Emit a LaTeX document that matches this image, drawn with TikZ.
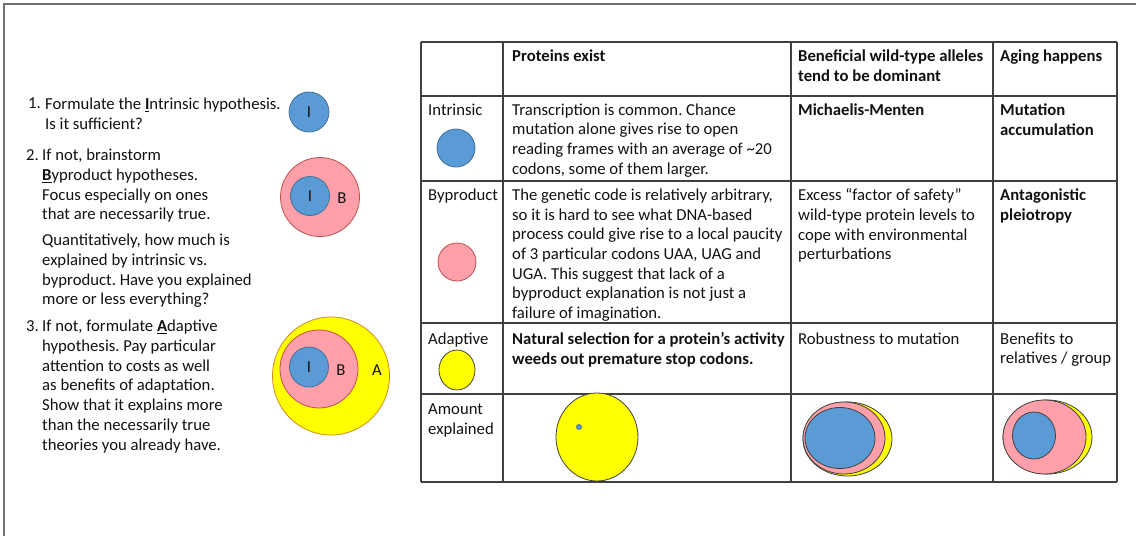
\documentclass[tikz,border=0pt]{standalone}
\usepackage{fontspec}
\setmainfont{Carlito}
\usepackage{xcolor}
\usetikzlibrary{shapes.geometric,positioning}
\frenchspacing
\definecolor{hyBlue}{HTML}{5B9BD5}
\definecolor{hyBlueLine}{HTML}{41719C}
\definecolor{hyPink}{HTML}{FF9FA9}
\definecolor{hyPinkLine}{HTML}{C0504D}
\definecolor{hyYellow}{HTML}{FFFF00}
\definecolor{hyYellowLine}{HTML}{D08A2A}
\definecolor{hyFrame}{HTML}{707070}
\definecolor{hyGrid}{HTML}{404040}
\definecolor{hyInk}{HTML}{111111}
\tikzset{
  hy diagram/.style={x=1pt, y=-1pt, text=hyInk,
    font=\fontsize{16.7}{19.7}\selectfont},
  hy text/.style={anchor=north west, align=left, inner sep=0pt},
  hy head/.style={hy text, font=\fontsize{16.7}{19.7}\selectfont\bfseries},
  hy frame/.style={draw=hyFrame, line width=2pt},
  hy grid/.style={draw=hyGrid, line width=1.3pt},
  hy blob/.style={ellipse, inner sep=0pt, line width=0.8pt},
  hy intr/.style={hy blob, draw=hyBlueLine, fill=hyBlue},
  hy byp/.style={hy blob, draw=hyPinkLine, fill=hyPink},
  hy adap/.style={hy blob, draw=hyYellowLine, fill=hyYellow},
  hy amount/.style={hy blob, draw=hyGrid}
}
\begin{document}
\begin{tikzpicture}[hy diagram]
\useasboundingbox (0,0) rectangle (1136,536);
\draw[hy frame] (4,536) -- (4,4) -- (1136,4);

% steps on the left
\node[hy text] (num1) at (28,98) {1.};
\node[hy text] (step1) at (45,98) {Formulate the \underline{\textbf{I}}ntrinsic hypothesis.\\Is it sufficient?};
\node[hy text] (num2) at (26,149) {2.};
\node[hy text] (step2) at (42,149) {If not, brainstorm\\\underline{\textbf{B}}yproduct hypotheses.\\Focus especially on ones\\that are necessarily true.};
\node[hy text] (step2b) at (42,234) {Quantitatively, how much is\\explained by intrinsic vs.\\byproduct. Have you explained\\more or less everything?};
\node[hy text] (num3) at (26,320) {3.};
\node[hy text] (step3) at (42,320) {If not, formulate \underline{\textbf{A}}daptive\\hypothesis. Pay particular\\attention to costs as well\\as benefits of adaptation.\\Show that it explains more\\than the necessarily true\\theories you already have.};

% nested circles
\node[hy intr, minimum width=40pt, minimum height=40pt] (one) at (309,112) {I};
\node[hy byp, minimum width=79pt, minimum height=79pt] (twoB) at (320,197) {};
\node[hy intr, minimum width=39pt, minimum height=39pt] (twoI) at (310,196) {I};
\node (twoBl) at (342,198) {B};
\node[hy adap, minimum width=117pt, minimum height=118pt] (threeA) at (331,376) {};
\node[hy byp, minimum width=78pt, minimum height=78pt] (threeB) at (319,369) {};
\node[hy intr, minimum width=39pt, minimum height=40pt] (threeI) at (309,367) {I};
\node (threeBl) at (341,370) {B};
\node (threeAl) at (377,370) {A};

% table grid
\foreach \x in {421,503,791,993,1117}
  \draw[hy grid] (\x,42) -- (\x,482);
\foreach \y in {42,96,181,323,394,482}
  \draw[hy grid] (421,\y) -- (1117,\y);

% header
\node[hy head] (hProt) at (512,49.5) {Proteins exist};
\node[hy head] (hDom) at (798,49.5) {Beneficial wild-type alleles\\tend to be dominant};
\node[hy head] (hAge) at (1000,49.5) {Aging happens};

% intrinsic row
\node[hy text] (rIntr) at (428,103.5) {Intrinsic};
\node[hy intr, minimum width=38pt, minimum height=38pt] (kIntr) at (456,148) {};
\node[hy text] (cIntrP) at (512,103.5) {Transcription is common. Chance\\mutation alone gives rise to open\\reading frames with an average of \textasciitilde20\\codons, some of them larger.};
\node[hy head] (cIntrD) at (798,103.5) {Michaelis-Menten};
\node[hy head] (cIntrA) at (1000,103.5) {Mutation\\accumulation};

% byproduct row
\node[hy text] (rByp) at (428,188.5) {Byproduct};
\node[hy byp, minimum width=38pt, minimum height=38pt] (kByp) at (457,262) {};
\node[hy text] (cBypP) at (512,188.5) {The genetic code is relatively arbitrary,\\so it is hard to see what DNA-based\\process could give rise to a local paucity\\of 3 particular codons UAA, UAG and\\UGA. This suggest that lack of a\\byproduct explanation is not just a\\failure of imagination.};
\node[hy text] (cBypD) at (798,188.5) {Excess “factor of safety”\\wild-type protein levels to\\cope with environmental\\perturbations};
\node[hy head] (cBypA) at (1000,188.5) {Antagonistic\\pleiotropy};

% adaptive row
\node[hy text] (rAdap) at (428,332.5) {Adaptive};
\node[hy adap, draw=hyGrid, minimum width=36pt, minimum height=40pt] (kAdap) at (457,370) {};
\node[hy head] (cAdapP) at (512,332.5) {Natural selection for a protein’s activity\\weeds out premature stop codons.};
\node[hy text] (cAdapD) at (798,332.5) {Robustness to mutation};
\node[hy text] (cAdapA) at (1000,332.5) {Benefits to\\relatives / group};

% amount explained row
\node[hy text] (rAmt) at (428,403.5) {Amount\\explained};
\node[hy amount, fill=hyYellow, minimum width=82pt, minimum height=88pt] (aProtA) at (597,437) {};
\node[hy amount, draw=hyBlueLine, fill=hyBlue, minimum width=5pt, minimum height=5pt] (aProtI) at (579,427) {};
\node[hy amount, fill=hyYellow, minimum width=89pt, minimum height=74pt] (aDomA) at (847.5,439) {};
\node[hy amount, fill=hyPink, minimum width=82pt, minimum height=72pt] (aDomB) at (844,438) {};
\node[hy amount, fill=hyBlue, minimum width=70pt, minimum height=61pt] (aDomI) at (840,438) {};
\node[hy amount, fill=hyYellow, minimum width=89pt, minimum height=74pt] (aAgeA) at (1047.5,437) {};
\node[hy amount, fill=hyPink, minimum width=83pt, minimum height=74pt] (aAgeB) at (1044.5,437) {};
\node[hy amount, fill=hyBlue, minimum width=43pt, minimum height=47pt] (aAgeI) at (1034,435.5) {};
\end{tikzpicture}
\end{document}
